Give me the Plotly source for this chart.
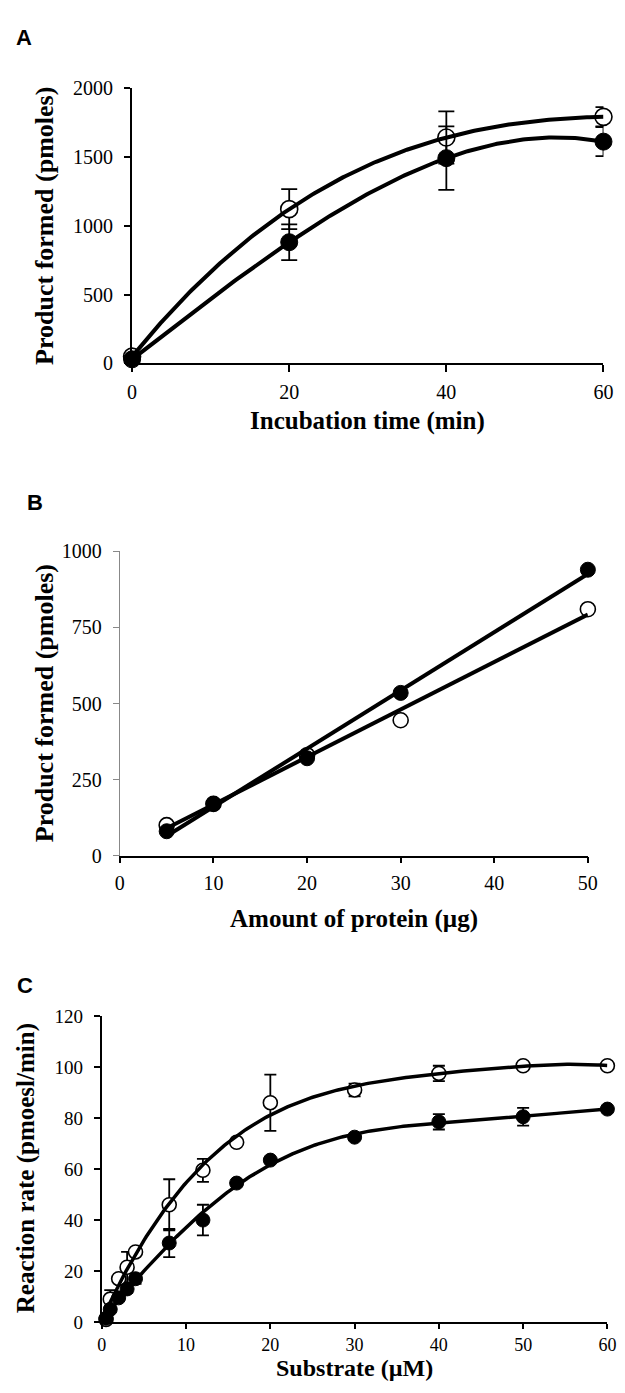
import numpy as np
import plotly.graph_objects as go

W, H = 625, 1393
OFF = 8  # page body margin offset

# ---------------- Data ----------------
a_time = [0, 20, 40, 60]
a_open = [50, 1120, 1640, 1790]
a_open_err = [0, 145, 190, 70]
a_filled = [30, 880, 1490, 1610]
a_filled_err = [0, 130, 230, 105]

b_protein = [5, 10, 20, 30, 50]
b_open = [100, 170, 330, 445, 810]
b_filled = [80, 170, 320, 535, 940]

c_substrate = [0.5, 1, 2, 3, 4, 8, 12, 16, 20, 30, 40, 50, 60]
c_open = [1, 9, 17, 21.5, 27.5, 46, 59.5, 70.5, 86, 91, 97.5, 100.5, 100.5]
c_open_err = [0, 3.5, 0, 6, 0, 10, 4.5, 0, 11, 2.5, 3, 1.5, 0]
c_filled = [1.5, 5, 9.5, 13, 17, 31, 40, 54.5, 63.5, 72.5, 78.5, 80.5, 83.5]
c_filled_err = [0, 1, 1, 1.5, 2, 5.5, 6, 0, 0, 0, 3, 3.5, 0]

a_xticks = [0, 20, 40, 60]
a_yticks = [0, 500, 1000, 1500, 2000]
b_xticks = [0, 10, 20, 30, 40, 50]
b_yticks = [0, 250, 500, 750, 1000]
c_xticks = [0, 10, 20, 30, 40, 50, 60]
c_yticks = [0, 20, 40, 60, 80, 100, 120]


def fit_curve(x, y, deg, n=200):
    coef = np.polyfit(x, y, deg)
    xs = np.linspace(min(x), max(x), n)
    return xs, np.polyval(coef, xs)


fig = go.Figure()


def add_panel(ax, x, yo, yo_err, yf, yf_err, deg, msize, lw, capw):
    xa, ya = ("x" if ax == 1 else f"x{ax}"), ("y" if ax == 1 else f"y{ax}")
    eo = dict(type="data", array=yo_err, color="black", thickness=1.8, width=capw) if yo_err is not None else None
    ef = dict(type="data", array=yf_err, color="black", thickness=1.8, width=capw) if yf_err is not None else None
    fig.add_trace(go.Scatter(x=x, y=yo, mode="markers", xaxis=xa, yaxis=ya,
                             marker=dict(symbol="circle", size=msize, color="white",
                                         line=dict(color="black", width=1.6)),
                             error_y=eo, cliponaxis=False, showlegend=False))
    fig.add_trace(go.Scatter(x=x, y=yf, mode="markers", xaxis=xa, yaxis=ya,
                             marker=dict(symbol="circle", size=msize, color="black",
                                         line=dict(color="black", width=1)),
                             error_y=ef, cliponaxis=False, showlegend=False))
    for yy in (yo, yf):
        xs, ys = fit_curve(x, yy, deg)
        fig.add_trace(go.Scatter(x=xs, y=ys, mode="lines", xaxis=xa, yaxis=ya,
                                 line=dict(color="black", width=lw),
                                 hoverinfo="skip", showlegend=False))


add_panel(1, a_time, a_open, a_open_err, a_filled, a_filled_err, 3, 17, 4, 8)
add_panel(2, b_protein, b_open, None, b_filled, None, 1, 15, 4, 6)
add_panel(3, c_substrate, c_open, c_open_err, c_filled, c_filled_err, 5, 14, 3.5, 6)

SERIF = "Liberation Serif, Times New Roman, serif"


def axis(domain, rng, ticks, color="black", width=2, ticklen=6, standoff=8, anchor=None, fsize=19):
    return dict(domain=domain, range=rng, tickvals=ticks, showgrid=False, zeroline=False,
                showline=True, linecolor=color, linewidth=width, ticks="outside",
                ticklen=ticklen, tickwidth=width, tickcolor=color,
                tickfont=dict(family=SERIF, size=fsize, color="black"),
                ticklabelstandoff=standoff, anchor=anchor, fixedrange=True)


def dx(a, b):
    return [(a - OFF) / W, (b - OFF) / W]


def dy(top, bottom):
    return [1 - (bottom - OFF) / H, 1 - (top - OFF) / H]


layout = dict(
    width=W, height=H, margin=dict(l=0, r=0, t=0, b=0),
    paper_bgcolor="white", plot_bgcolor="white", showlegend=False,
    font=dict(family=SERIF, size=19, color="black"),
    xaxis=axis(dx(130, 613), [0, 60], a_xticks, ticklen=7, standoff=3, anchor="y", fsize=20),
    yaxis=axis(dy(78, 358), [0, 2000], a_yticks, ticklen=6, standoff=7, anchor="x", fsize=20),
    xaxis2=axis(dx(117.5, 597), [0, 50], b_xticks, width=1.5, ticklen=6, standoff=3, anchor="y2", fsize=20),
    yaxis2=axis(dy(549, 858), [0, 1000], b_yticks, color="#888888", width=1.2, ticklen=6, standoff=7,
                anchor="x2", fsize=20),
    xaxis3=axis(dx(99, 617), [0, 60], c_xticks, ticklen=5, standoff=0, anchor="y3", fsize=18),
    yaxis3=axis(dy(1021, 1332), [0, 120], c_yticks, ticklen=6, standoff=7, anchor="x3", fsize=19),
)
fig.update_layout(**layout)

letterfont = dict(family="Liberation Sans, Arial, sans-serif", size=22, color="black")


def tf(size):
    return dict(family=SERIF, size=size, color="black")


def ann(text, x, y, font, angle=0):
    fig.add_annotation(text=text, x=(x - OFF) / W, y=1 - (y - OFF) / H, xref="paper", yref="paper",
                       showarrow=False, font=font, textangle=angle,
                       xanchor="center", yanchor="middle")


ann("<b>A</b>", 19, 27, letterfont)
ann("<b>B</b>", 31, 499, letterfont)
ann("<b>C</b>", 20, 990, letterfont)

ann("<b>Incubation time (min)</b>", 371, 416, tf(25))
ann("<b>Product formed (pmoles)</b>", 40, 218, tf(26), -90)
ann("<b>Amount of protein (µg)</b>", 357, 922, tf(25))
ann("<b>Product formed (pmoles)</b>", 40, 703, tf(26), -90)
ann("<b>Substrate (µM)</b>", 358, 1379, tf(24))
ann("<b>Reaction rate (pmoesl/min)</b>", 21, 1176, tf(25), -90)

fig.write_html("out.html")
